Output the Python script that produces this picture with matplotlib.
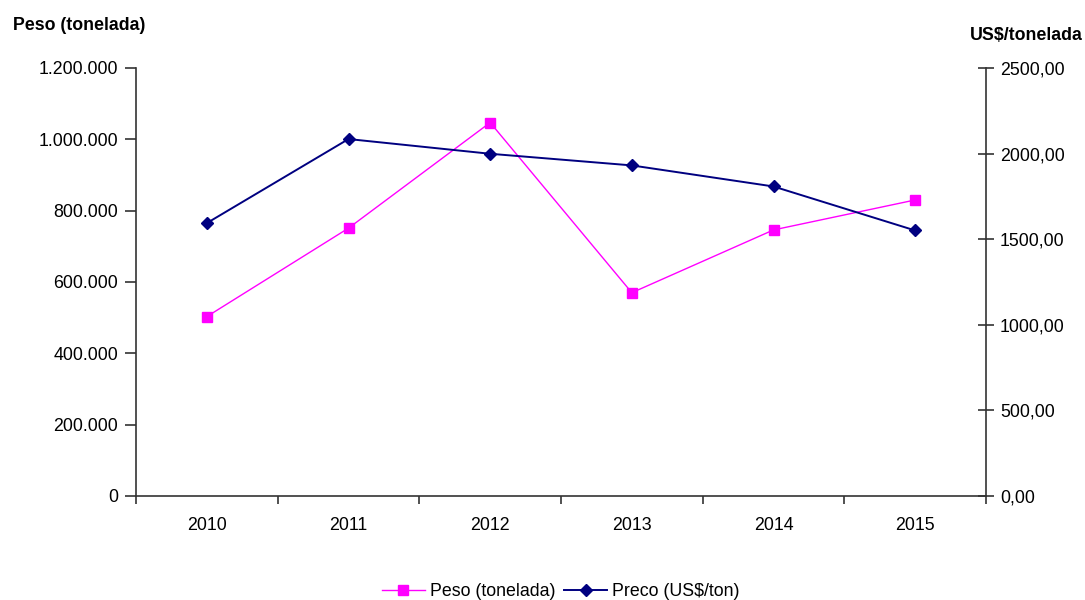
import matplotlib
matplotlib.use("Agg")
import matplotlib.pyplot as plt
from matplotlib.ticker import FuncFormatter, FixedLocator
from matplotlib.lines import Line2D

plt.rcParams['font.family'] = ['Liberation Sans', 'DejaVu Sans']

anos = ['2010', '2011', '2012', '2013', '2014', '2015']
peso = [503000, 751000, 1047000, 570000, 746000, 830000]
preco = [1594, 2085, 1999, 1931, 1808, 1551]

peso_ticks = [0, 200000, 400000, 600000, 800000, 1000000, 1200000]
preco_ticks = [0, 500, 1000, 1500, 2000, 2500]

fs = 12.8

fig = plt.figure(figsize=(10.85, 6.0), dpi=100)
ax = fig.add_axes([136/1085, 1-496/600, 850/1085, 428/600])
ax2 = ax.twinx()

x = list(range(len(anos)))
ax.plot(x, peso, color='#FF00FF', lw=1.0, marker='s', ms=7, mec='#FF00FF', zorder=3)
ax2.plot(x, preco, color='#000080', lw=1.4, marker='D', ms=6, mec='#000080', zorder=3)

ax.set_xlim(-0.5, 5.5)
ax.set_ylim(0, 1200000)
ax2.set_ylim(0, 2500)
ax.set_yticks(peso_ticks)
ax2.set_yticks(preco_ticks)
ax.yaxis.set_major_formatter(FuncFormatter(lambda v, p: f"{int(v):,}".replace(',', '.')))
ax2.yaxis.set_major_formatter(FuncFormatter(lambda v, p: f"{v:.2f}".replace('.', ',')))

ax.set_xticks(x)
ax.set_xticklabels(anos)
ax.xaxis.set_minor_locator(FixedLocator([i - 0.5 for i in range(len(anos) + 1)]))
ax.tick_params(axis='x', which='major', length=0, pad=15, labelsize=fs)
ax.tick_params(axis='x', which='minor', length=6, width=1.2, direction='out', color='#333333')
ax.tick_params(axis='y', length=8, width=1.2, direction='out', pad=5, labelsize=fs, color='#333333')
ax2.tick_params(axis='y', length=12, width=1.2, direction='inout', pad=4, labelsize=fs, color='#333333')

for a in (ax, ax2):
    a.spines['top'].set_visible(False)
    for s in ('left', 'right', 'bottom'):
        a.spines[s].set_linewidth(1.2)
        a.spines[s].set_color('#333333')
ax.spines['right'].set_visible(False)
ax2.spines['left'].set_visible(False)
ax2.spines['bottom'].set_visible(False)

fig.text(13/1085, 1-25/600, 'Peso (tonelada)', fontsize=fs, fontweight='bold', va='center', ha='left')
fig.text(1083/1085, 1-35/600, 'US$/tonelada', fontsize=fs, fontweight='bold', va='center', ha='right')

handles = [
    Line2D([], [], color='#FF00FF', lw=1.0, marker='s', ms=7),
    Line2D([], [], color='#000080', lw=1.4, marker='D', ms=6),
]
fig.legend(handles, ['Peso (tonelada)', 'Preco (US$/ton)'], loc='center',
           bbox_to_anchor=(561/1085, 1-592/600), ncol=2, frameon=False,
           fontsize=fs, handlelength=2.4, handletextpad=0.3, columnspacing=0.5)

fig.savefig('out.png', dpi=100)
